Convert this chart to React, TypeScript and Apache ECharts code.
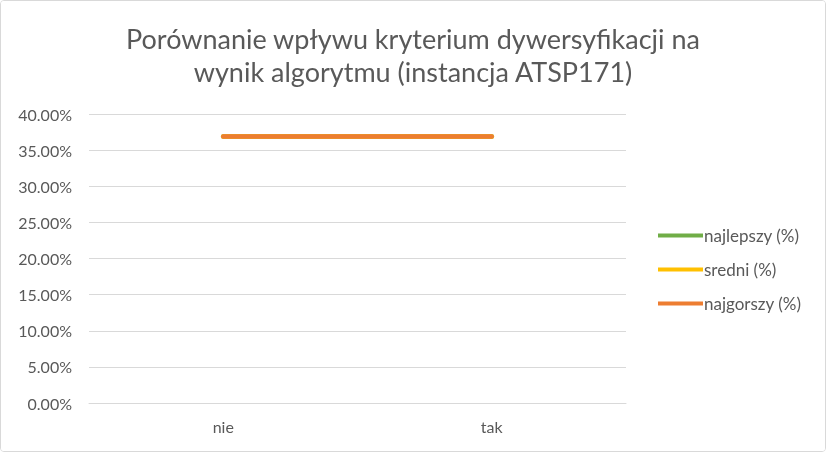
import React, { useEffect, useRef } from "react";
import * as echarts from "echarts";

const titleText = "Porównanie wpływu kryterium dywersyfikacji na\nwynik algorytmu (instancja ATSP171)";
const categories = ["nie", "tak"];
const seriesNames = ["najlepszy (%)", "sredni (%)", "najgorszy (%)"];
const najlepszy = [36.9, 36.9];
const sredni = [36.9, 36.9];
const najgorszy = [36.9, 36.9];
const colors = ["#70ad47", "#ffc000", "#ed7d31"];

export default function App() {
  const ref = useRef<HTMLDivElement>(null);
  useEffect(() => {
    if (!ref.current) return;
    const chart = echarts.init(ref.current, null, { renderer: "svg" });
    const values = [najlepszy, sredni, najgorszy];
    chart.setOption({
      animation: false,
      backgroundColor: "#ffffff",
      title: {
        text: titleText,
        left: "center",
        top: 16,
        textStyle: {
          fontFamily: "Lato",
          fontSize: 27,
          fontWeight: "normal",
          color: "#595959",
          lineHeight: 33,
        },
      },
      legend: {
        orient: "vertical",
        left: 652,
        top: 221,
        itemGap: 17,
        itemWidth: 45,
        itemHeight: 4,
        icon: "rect",
        data: seriesNames,
        textStyle: { fontFamily: "Lato", fontSize: 17, color: "#595959", padding: [0, 0, 0, -4] },
      },
      grid: { left: 88, right: 199, top: 113, bottom: 48 },
      xAxis: {
        type: "category",
        data: categories,
        axisLine: { lineStyle: { color: "#d9d9d9" } },
        axisTick: { show: false },
        axisLabel: { fontFamily: "Lato", fontSize: 16, color: "#595959", margin: 15 },
      },
      yAxis: {
        type: "value",
        min: 0,
        max: 40,
        interval: 5,
        axisLine: { show: false },
        axisTick: { show: false },
        splitLine: { lineStyle: { color: "#d9d9d9" } },
        axisLabel: {
          fontFamily: "Lato",
          fontSize: 16,
          color: "#595959",
          margin: 17,
          formatter: (v: number) => v.toFixed(2) + "%",
        },
      },
      series: seriesNames.map((name, i) => ({
        name,
        type: "line",
        data: values[i],
        symbol: "none",
        color: colors[i],
        lineStyle: { width: 4.5, color: colors[i], cap: "round" },
      })),
    });
    return () => chart.dispose();
  }, []);
  return (
    <div
      ref={ref}
      style={{
        position: "fixed",
        left: 0,
        top: 0,
        width: 826,
        height: 452,
        boxSizing: "border-box",
        border: "1px solid #d9d9d9",
        borderRadius: 4,
        overflow: "hidden",
      }}
    />
  );
}
